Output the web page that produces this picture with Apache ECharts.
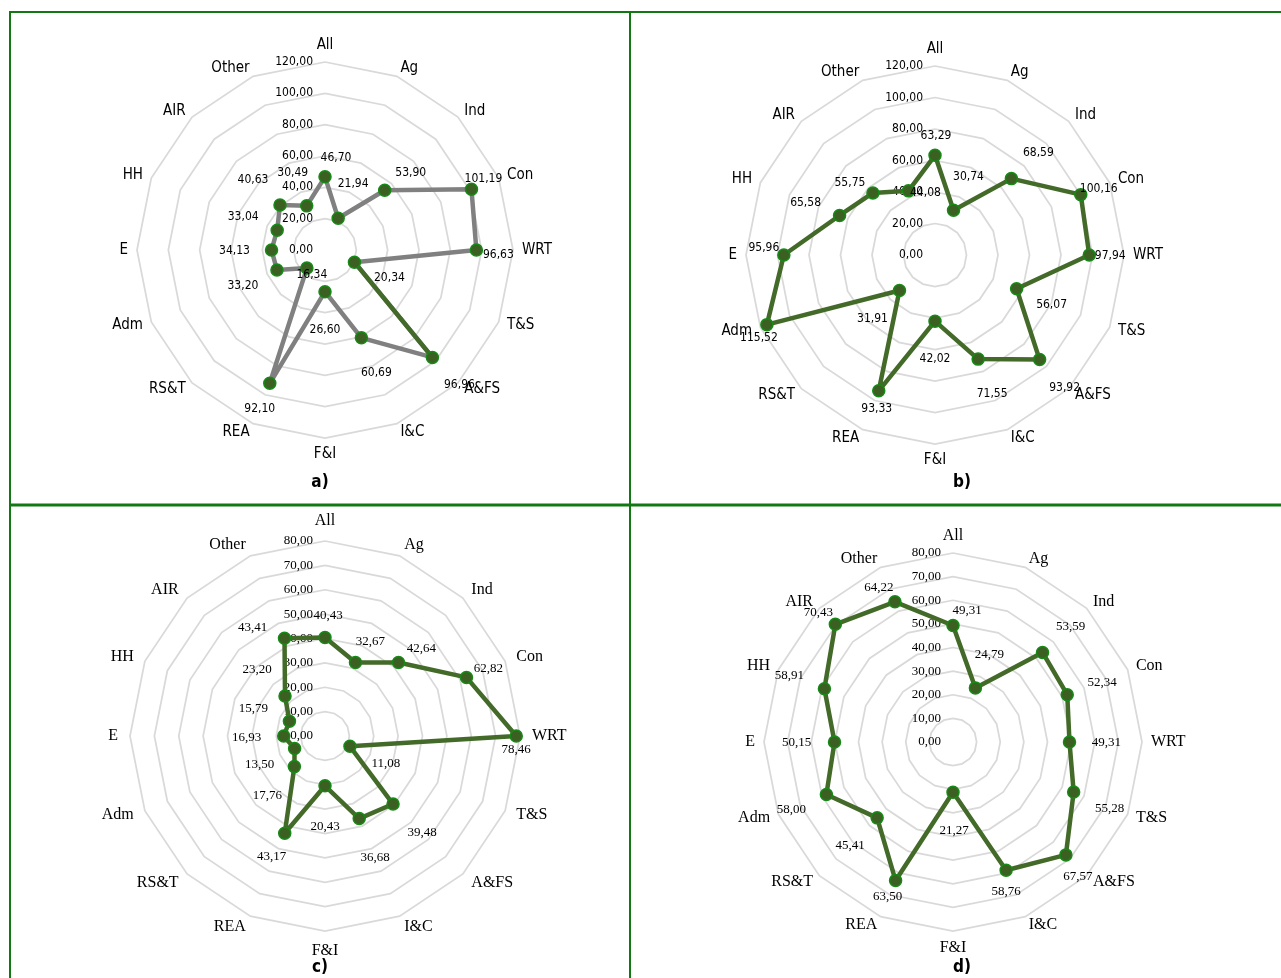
<!DOCTYPE html>
<html><head><meta charset="utf-8">
<script src="https://cdn.jsdelivr.net/npm/echarts@6/dist/echarts.min.js"></script>
<style>html,body{margin:0;padding:0;background:#fff}#c{width:1281px;height:978px}</style>
</head><body><div id="c"></div>
<script>
// ---- data ----
const categories = ['All','Ag','Ind','Con','WRT','T&S','A&FS','I&C','F&I','REA','RS&T','Adm','E','HH','AIR','Other'];
const valuesA = [46.70,21.94,53.90,101.19,96.63,20.34,96.96,60.69,26.60,92.10,16.34,33.20,34.13,33.04,40.63,30.49];
const valuesB = [63.29,30.74,68.59,100.16,97.94,56.07,93.92,71.55,42.02,93.33,31.91,115.52,95.96,65.58,55.75,44.08];
const valuesC = [40.43,32.67,42.64,62.82,78.46,11.08,39.48,36.68,20.43,43.17,17.76,13.50,16.93,15.79,23.20,43.41];
const valuesD = [49.31,24.79,53.59,52.34,49.31,55.28,67.57,58.76,21.27,63.50,45.41,58.00,50.15,58.91,70.43,64.22];
const ticksAB = [0,20,40,60,80,100,120];
const ticksCD = [0,10,20,30,40,50,60,70,80];
const captions = ['a)','b)','c)','d)'];
const highlightA = ['T&S','A&FS'];

// ---- layout (label offsets in px, per category) ----
const offsetsA = [[11,-19],[15,-34],[26,-17],[12,-10],[22,5],[35,16],[27,27],[15,35],[0,38],[-10,26],[5,7],[-34,16],[-37,1],[-34,-13],[-27,-25],[-14,-33]];
const offsetsB = [[1,-19],[15,-33],[27,-26],[18,-6],[21,1],[35,16],[25,28],[14,35],[0,38],[-2,18],[-27,28],[-8,13],[-20,-7],[-34,-13],[-23,-10],[17,2]];
const offsetsC = [[3,-22],[15,-21],[23,-14],[22,-9],[0,14],[36,17],[29,29],[16,39],[0,41],[-13,23],[-27,29],[-35,16],[-37,2],[-36,-13],[-28,-26],[-32,-11]];
const offsetsD = [[14,-15],[14,-33],[28,-26],[35,-12],[37,1],[36,17],[12,22],[0,21],[1,38],[-8,16],[-27,28],[-35,15],[-38,1],[-35,-13],[-17,-12],[-16,-14]];

const SANS = "'DejaVu Sans Condensed', 'DejaVu Sans', sans-serif";
const SERIF = "'Liberation Serif', 'Times New Roman', serif";
const GREEN_LINE = '#436a28';
const GREY_LINE = '#808080';
const FRAME = '#127812';

const panels = [
  {values: valuesA, ticks: ticksAB, offsets: offsetsA, center: [325,250], r: 188, font: SANS, nameSize: 15, valSize: 12, gap: 9, lineColor: GREY_LINE, highlight: highlightA},
  {values: valuesB, ticks: ticksAB, offsets: offsetsB, center: [935,255], r: 189, font: SANS, nameSize: 15, valSize: 12, gap: 9, lineColor: GREEN_LINE},
  {values: valuesC, ticks: ticksCD, offsets: offsetsC, center: [325,736], r: 195, font: SERIF, nameSize: 16, valSize: 13, gap: 12, lineColor: GREEN_LINE},
  {values: valuesD, ticks: ticksCD, offsets: offsetsD, center: [953,742], r: 189, font: SERIF, nameSize: 16, valSize: 13, gap: 9, lineColor: GREEN_LINE}
];

const fmt = v => v.toFixed(2).replace('.', ',');
// radar draws counter-clockwise; reverse order after the first to get clockwise
const order = [0].concat(categories.map((_, i) => i).slice(1).reverse());

const radar = [], polar = [], angleAxis = [], radiusAxis = [], series = [];
panels.forEach((p, k) => {
  const max = p.ticks[p.ticks.length - 1];
  const interval = p.ticks[1] - p.ticks[0];
  radar.push({
    center: p.center, radius: p.r, startAngle: 90, shape: 'polygon',
    splitNumber: p.ticks.length - 1, nameGap: p.gap,
    indicator: order.map(i => ({name: categories[i], min: 0, max: max})),
    axisName: {color: '#000', fontFamily: p.font, fontSize: p.nameSize},
    axisLine: {show: false}, axisTick: {show: false}, axisLabel: {show: false},
    splitArea: {show: false},
    splitLine: {lineStyle: {color: '#d9d9d9', width: 1.75}}
  });
  polar.push({center: p.center, radius: [0, p.r]});
  angleAxis.push({polarIndex: k, type: 'category', data: categories, startAngle: 90, clockwise: true,
    boundaryGap: false, axisLine: {show: false}, axisTick: {show: false}, axisLabel: {show: false}, splitLine: {show: false}});
  radiusAxis.push({polarIndex: k, type: 'value', min: 0, max: max, interval: interval,
    axisLine: {show: false}, axisTick: {show: false}, splitLine: {show: false},
    axisLabel: {show: true, margin: 12, formatter: v => fmt(v), fontFamily: p.font, fontSize: p.valSize, color: '#000'}, z: 1});
  series.push({
    type: 'radar', radarIndex: k, z: 2, symbol: 'none',
    lineStyle: {color: p.lineColor, width: 4.5, opacity: 1},
    data: [{value: order.map(i => p.values[i])}]
  });
  if (p.highlight) {
    series.push({
      type: 'line', coordinateSystem: 'polar', polarIndex: k, z: 3, symbol: 'none',
      lineStyle: {color: GREEN_LINE, width: 4.5},
      data: p.highlight.map(n => { const i = categories.indexOf(n); return [p.values[i], i]; })
    });
  }
  series.push({
    type: 'scatter', coordinateSystem: 'polar', polarIndex: k, z: 4,
    symbol: 'circle', symbolSize: 12,
    itemStyle: {color: '#3b6022', borderColor: '#168a16', borderWidth: 1.5, opacity: 1},
    label: {show: true, position: 'inside', formatter: d => fmt(d.value[0]),
      fontFamily: p.font, fontSize: p.valSize, color: '#000', opacity: 1},
    emphasis: {disabled: true},
    data: p.values.map((v, i) => ({value: [v, i], label: {offset: p.offsets[i]}}))
  });
});

const captionPos = [[320,483],[962,483],[320,968],[962,968]];
const graphic = [
  {type: 'line', shape: {x1: 9, y1: 12, x2: 1281, y2: 12}, style: {stroke: FRAME, lineWidth: 2}},
  {type: 'line', shape: {x1: 10, y1: 12, x2: 10, y2: 978}, style: {stroke: FRAME, lineWidth: 2}},
  {type: 'line', shape: {x1: 630, y1: 12, x2: 630, y2: 978}, style: {stroke: FRAME, lineWidth: 2}},
  {type: 'line', shape: {x1: 10, y1: 505, x2: 1281, y2: 505}, style: {stroke: FRAME, lineWidth: 3}}
];
captions.forEach((t, k) => graphic.push({
  type: 'text', x: captionPos[k][0], y: captionPos[k][1],
  style: {text: t, fill: '#000', font: "bold 17px 'DejaVu Sans Condensed', 'DejaVu Sans', sans-serif", textAlign: 'center', textVerticalAlign: 'middle'}
}));

const chart = echarts.init(document.getElementById('c'), null, {renderer: 'canvas'});
chart.setOption({animation: false, radar, polar, angleAxis, radiusAxis, series, graphic});
</script></body></html>
